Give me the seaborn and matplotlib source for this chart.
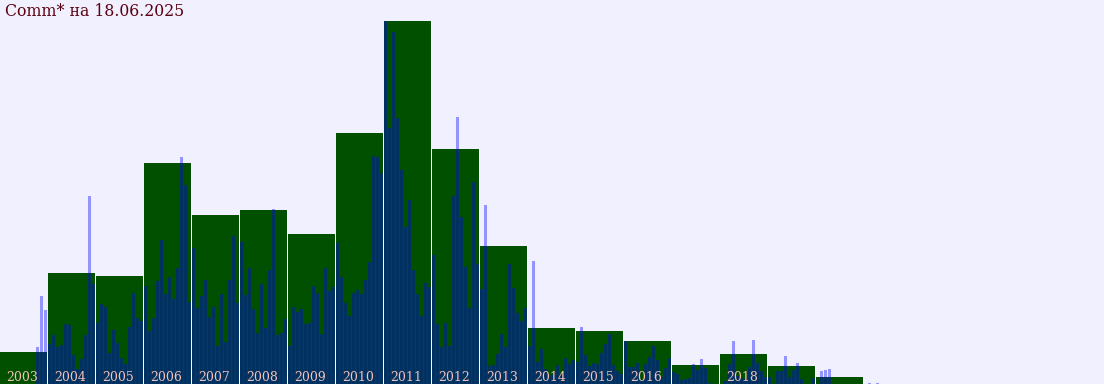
import numpy as np
import pandas as pd
import matplotlib
matplotlib.use("Agg")
import matplotlib.pyplot as plt
import matplotlib.transforms as mtransforms
import seaborn as sns

# ---- data (bar heights) ----
years = list(range(2003, 2021))
year_totals = [32, 111, 108, 221, 169, 174, 150, 251, 363, 235, 138, 56, 53, 43, 19, 30, 18, 7]
label_years = [2003, 2004, 2005, 2006, 2007, 2008, 2009, 2010, 2011, 2012, 2013, 2014, 2015, 2016, 2018]

monthly_years = list(range(2003, 2022))
m2003 = [0, 0, 0, 0, 0, 0, 0, 0, 0, 37, 88, 74]
m2004 = [40, 49, 37, 39, 60, 59, 29, 15, 25, 49, 188, 100]
m2005 = [61, 80, 77, 31, 54, 41, 26, 20, 57, 91, 66, 63]
m2006 = [98, 53, 66, 103, 144, 90, 107, 85, 116, 227, 199, 82]
m2007 = [136, 76, 88, 104, 67, 77, 38, 90, 42, 104, 148, 81]
m2008 = [142, 89, 116, 75, 51, 100, 56, 114, 175, 49, 51, 65]
m2009 = [38, 77, 72, 75, 60, 61, 98, 91, 50, 116, 93, 97]
m2010 = [141, 107, 81, 68, 91, 94, 90, 104, 122, 228, 227, 211]
m2011 = [363, 256, 352, 266, 214, 157, 184, 114, 90, 68, 101, 97]
m2012 = [129, 60, 37, 61, 38, 188, 267, 167, 117, 76, 202, 120]
m2013 = [95, 179, 18, 19, 30, 50, 37, 120, 96, 71, 63, 76]
m2014 = [38, 123, 22, 35, 15, 8, 10, 19, 10, 26, 20, 24]
m2015 = [22, 57, 29, 18, 21, 20, 31, 40, 50, 19, 13, 10]
m2016 = [43, 17, 17, 21, 4, 20, 27, 38, 24, 7, 16, 26]
m2017 = [12, 10, 4, 5, 6, 20, 14, 25, 16, 1, 0, 0]
m2018 = [0, 3, 20, 43, 8, 6, 5, 17, 44, 21, 13, 7]
m2019 = [7, 0, 13, 13, 28, 7, 14, 21, 5, 0, 0, 6]
m2020 = [0, 13, 14, 15, 0, 0, 0, 0, 0, 0, 0, 0]
m2021 = [0, 1, 0, 1, 0, 0, 0, 0, 0, 0, 0, 0]
monthly = [m2003, m2004, m2005, m2006, m2007, m2008, m2009, m2010, m2011, m2012,
           m2013, m2014, m2015, m2016, m2017, m2018, m2019, m2020, m2021]

title = "Comm* на 18.06.2025"

# ---- style ----
BG = "#f0f0ff"
GREEN = "#005000"
BLUE = "#0000ff"
LABEL = "#f4c0b8"
TITLE = "#5a0010"

sns.set_theme(style="white")
plt.rcParams["font.family"] = ["DejaVu Serif", "DejaVu Sans"]

# month index k = 12*(year-2003) + month-1 ; one month = 4 px
mon_rows = []
for yi, (y, vals) in enumerate(zip(monthly_years, monthly)):
    for mi, v in enumerate(vals):
        mon_rows.append({"k": 12 * yi + mi, "value": v})
df_m = pd.DataFrame(mon_rows)

df_y = pd.DataFrame({"year": years, "value": year_totals})
df_y["center"] = 12 * (df_y["year"] - 2003) + 5.5
df_y["slot"] = 12 * (df_y["year"] - 2003) + 5.625

fig = plt.figure(figsize=(11.04, 3.84), dpi=100, facecolor=BG)
ax = fig.add_axes([0, 0, 1, 1])
ax.set_facecolor(BG)

# white separators between the yearly bars (full slot, white), then green bars
sns.barplot(data=df_y, x="slot", y="value", native_scale=True, orient="x",
            width=1.0, color="#ffffff", saturation=1, errorbar=None,
            linewidth=0, edgecolor="none", ax=ax, zorder=0.5)
sns.barplot(data=df_y, x="center", y="value", native_scale=True, orient="x",
            width=11.75 / 12, color=GREEN, saturation=1, errorbar=None,
            linewidth=0, edgecolor="none", ax=ax, zorder=1)
sns.barplot(data=df_m, x="k", y="value", native_scale=True, orient="x",
            width=0.75, color=BLUE, saturation=1, errorbar=None, alpha=0.38,
            linewidth=0, edgecolor="none", ax=ax, zorder=2)

ax.set_xlim(-0.375, 276 - 0.375)
ax.set_ylim(0, 384)
ax.set_axis_off()

trans = mtransforms.blended_transform_factory(ax.transData, ax.transAxes)
for y in label_years:
    ax.text(12 * (y - 2003) + 1.125, 3.0 / 384, str(y), transform=trans,
            ha="left", va="baseline", fontsize=9, color=LABEL, zorder=5)

fig.text(5 / 1104, 1 - 16.5 / 384, title, ha="left", va="baseline",
         fontsize=11.3, color=TITLE)

fig.savefig("out.png", dpi=100, facecolor=BG)
